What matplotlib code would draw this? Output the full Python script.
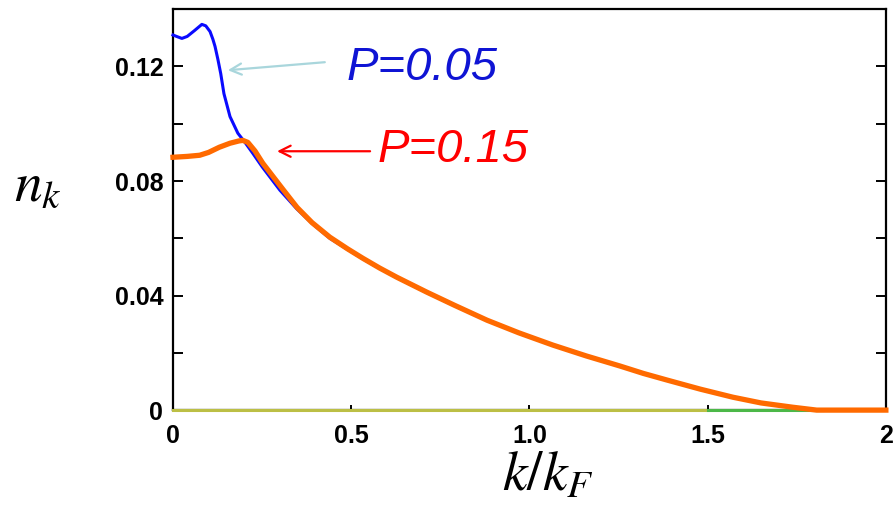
import matplotlib.pyplot as plt
import numpy as np
from matplotlib.ticker import MultipleLocator

plt.rcParams['mathtext.fontset'] = 'stix'

# P = 0.05 (blue)
k_blue = [0, 0.01, 0.025, 0.04, 0.06, 0.081, 0.092, 0.104, 0.112, 0.118,
          0.126, 0.134, 0.143, 0.16, 0.182, 0.202, 0.225, 0.25, 0.30, 0.348,
          0.39, 0.44, 0.49, 0.533, 0.58, 0.628, 0.712, 0.79, 0.881, 0.97,
          1.066, 1.16, 1.254, 1.32, 1.386, 1.48, 1.571, 1.65, 1.739, 1.806, 2.0]
n_blue = [0.131, 0.1305, 0.1298, 0.1305, 0.1325, 0.1347, 0.1342, 0.1322, 0.1295, 0.127,
          0.1225, 0.1175, 0.1105, 0.1025, 0.0967, 0.0935, 0.0895, 0.0850, 0.0768, 0.0702,
          0.0652, 0.0600, 0.0561, 0.0528, 0.0495, 0.0463, 0.0411, 0.0365, 0.0314, 0.0270,
          0.0227, 0.0189, 0.0154, 0.0128, 0.0105, 0.0073, 0.0045, 0.0025, 0.0010, 0.0, 0.0]

# P = 0.15 (orange)
k_orange = [0, 0.04, 0.075, 0.10, 0.13, 0.16, 0.185, 0.196, 0.21, 0.23,
            0.252, 0.309, 0.348, 0.39, 0.44, 0.49, 0.533, 0.58, 0.628, 0.712,
            0.79, 0.881, 0.97, 1.066, 1.16, 1.254, 1.32, 1.386, 1.48, 1.571,
            1.65, 1.739, 1.806, 2.0]
n_orange = [0.0883, 0.0886, 0.089, 0.0900, 0.0918, 0.0932, 0.0940, 0.0942, 0.0935, 0.0905,
            0.0862, 0.0770, 0.0708, 0.0655, 0.0604, 0.0563, 0.0530, 0.0496, 0.0464, 0.0412,
            0.0366, 0.0314, 0.0270, 0.0227, 0.0189, 0.0154, 0.0128, 0.0105, 0.0073, 0.0045,
            0.0025, 0.0010, 0.0, 0.0]

# other curves lying on zero
k_olive = [0, 1.5]
n_olive = [0, 0]
k_green = [1.5, 1.82]
n_green = [0, 0]

fig = plt.figure(figsize=(8.93, 5.12), dpi=100)
ax = fig.add_axes([0.1937, 0.199, 0.7983, 0.783])

ax.plot(k_olive, n_olive, color='#bcbf45', lw=2.2, zorder=3, clip_on=False)
ax.plot(k_green, n_green, color='#4cb848', lw=2.2, zorder=3, clip_on=False)
ax.plot(k_blue, n_blue, color='#0a0aff', lw=2.2, zorder=4, clip_on=False)
ax.plot(k_orange, n_orange, color='#ff6a00', lw=3.8, zorder=5, clip_on=False)

ax.set_xlim(0, 2)
ax.set_ylim(0, 0.14)
ax.set_xticks([0, 0.5, 1.0, 1.5, 2])
ax.set_xticklabels(['0', '0.5', '1.0', '1.5', '2'])
ax.set_yticks([0, 0.04, 0.08, 0.12])
ax.set_yticklabels(['0', '0.04', '0.08', '0.12'])
ax.yaxis.set_minor_locator(MultipleLocator(0.02))

for sp in ax.spines.values():
    sp.set_linewidth(1.6)

ax.tick_params(axis='y', which='both', direction='in', right=True, length=7,
               width=1.4, pad=7)
ax.tick_params(axis='x', direction='in', length=3.5, width=1.4, pad=10)
for lab in ax.get_xticklabels() + ax.get_yticklabels():
    lab.set_fontfamily('Liberation Sans')
    lab.set_fontweight('bold')
    lab.set_fontsize(18)

# axis labels
fig.text(38 / 893, 1 - 185 / 512, r'$n_k$', fontsize=40, ha='center', va='center')
fig.text(548 / 893, 1 - 476 / 512, r'$k/k_F$', fontsize=40, ha='center', va='center')

# annotations
ax.annotate('', xy=(0.154, 0.1187), xytext=(0.426, 0.1215),
            arrowprops=dict(arrowstyle='->', color='#a9d6dc', lw=1.6,
                            mutation_scale=20, shrinkA=0, shrinkB=0))
ax.text(0.488, 0.1152, 'P=0.05', color='#0f14d4', fontsize=34,
        fontfamily='Liberation Sans', style='italic', va='baseline')

ax.annotate('', xy=(0.292, 0.0904), xytext=(0.553, 0.0904),
            arrowprops=dict(arrowstyle='->', color='#ff0000', lw=1.6,
                            mutation_scale=20, shrinkA=0, shrinkB=0))
ax.text(0.575, 0.0866, 'P=0.15', color='#ff0000', fontsize=34,
        fontfamily='Liberation Sans', style='italic', va='baseline')

fig.savefig('out.png', dpi=100, facecolor='w')
